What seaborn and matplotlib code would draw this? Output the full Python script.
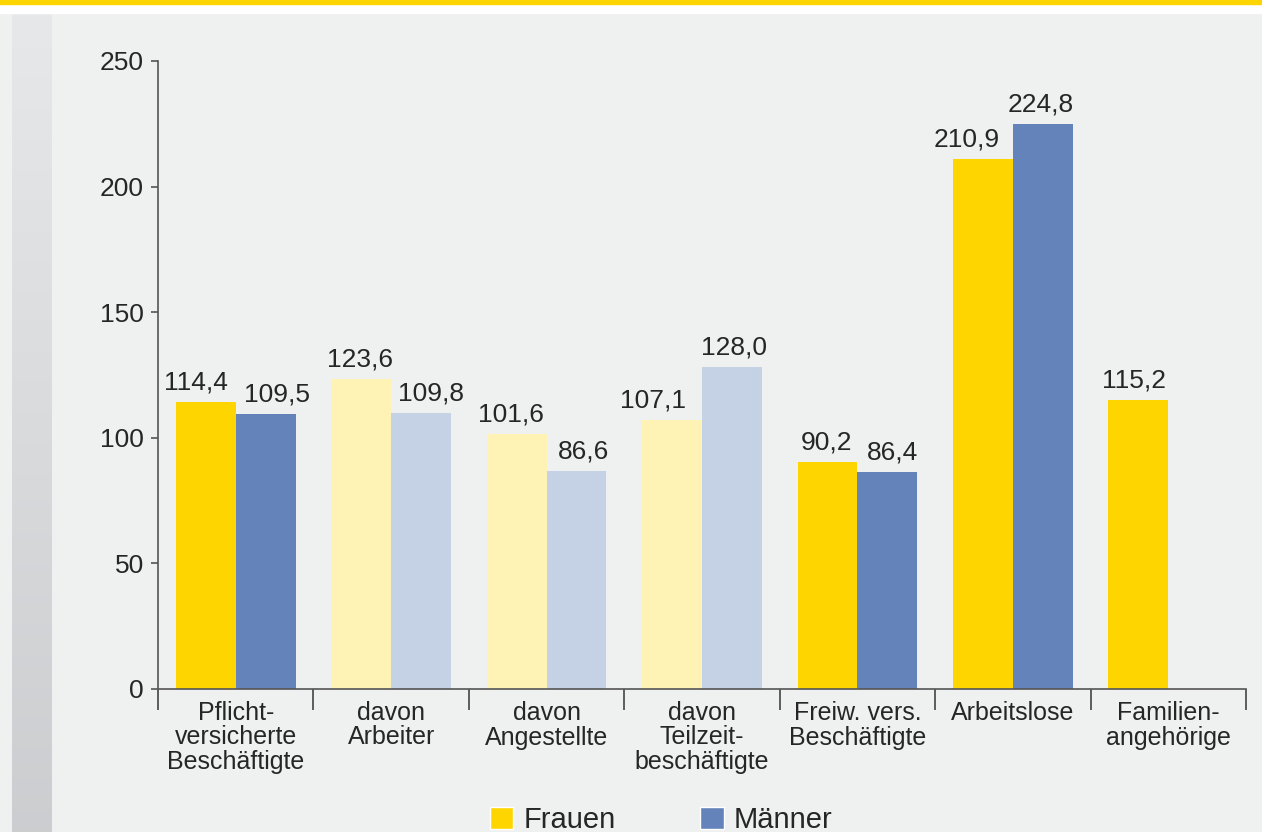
import numpy as np
import pandas as pd
import seaborn as sns
import matplotlib
matplotlib.use("Agg")
import matplotlib.pyplot as plt
from matplotlib.patches import Patch, Rectangle

# Daten
gruppen = ["Pflicht-\nversicherte\nBeschäftigte", "davon\nArbeiter", "davon\nAngestellte",
           "davon\nTeilzeit-\nbeschäftigte", "Freiw. vers.\nBeschäftigte", "Arbeitslose",
           "Familien-\nangehörige"]
frauen = [114.4, 123.6, 101.6, 107.1, 90.2, 210.9, 115.2]
maenner = [109.5, 109.8, 86.6, 128.0, 86.4, 224.8, np.nan]
yticks = [0, 50, 100, 150, 200, 250]

df = pd.DataFrame({
    "Gruppe": gruppen * 2,
    "Wert": frauen + maenner,
    "Geschlecht": ["Frauen"] * len(gruppen) + ["Männer"] * len(gruppen),
})

bg = "#eff0f0"
gelb, blau = "#ffd500", "#6483ba"
gelb_hell, blau_hell = "#fff2b5", "#c5d2e5"
hell_idx = [1, 2, 3]  # "davon"-Gruppen heller
txt = "#262626"

# kleine Verschiebungen der Beschriftungen (pt), wie im Original
dx_frauen = [-7, -1, -4, -14, -1, -11.5, -3.5]
dx_maenner = [8.5, 7, 5, 1.5, 4, -1.5, 0]

sns.set_theme(style="white")
plt.rcParams["font.family"] = ["Liberation Sans", "DejaVu Sans"]

fig = plt.figure(figsize=(12.62, 8.32), dpi=100, facecolor=bg)

# Rahmen oben und grauer Streifen links
fig.patches.append(Rectangle((0, 1 - 13 / 832), 1, 9 / 832, transform=fig.transFigure,
                             color="white", zorder=0))
fig.patches.append(Rectangle((0, 1 - 4 / 832), 1, 4 / 832, transform=fig.transFigure,
                             color=gelb, zorder=1))
band = fig.add_axes([12 / 1262, 0, 40 / 1262, 1 - 13 / 832])
g = np.linspace(0, 1, 256)[:, None]
top = np.array([0.905, 0.91, 0.915])
bot = np.array([0.80, 0.805, 0.815])
band.imshow((top * (1 - g) + bot * g)[:, None, :], aspect="auto")
band.axis("off")

ax = fig.add_axes([158 / 1262, 1 - 689 / 832, 1088 / 1262, 628 / 832])
ax.set_facecolor(bg)

sns.barplot(data=df, x="Gruppe", y="Wert", hue="Geschlecht", palette=[gelb, blau],
            width=0.77, saturation=1, legend=False, ax=ax, linewidth=0)

for hi, cont in enumerate(ax.containers):
    for bar in cont:
        h = bar.get_height()
        if np.isnan(h):
            continue
        cx = bar.get_x() + bar.get_width() / 2
        cat = int(round(cx))
        if cat in hell_idx:
            bar.set_facecolor(gelb_hell if hi == 0 else blau_hell)
        dx = dx_frauen[cat] if hi == 0 else dx_maenner[cat]
        ax.annotate(f"{h:.1f}".replace(".", ","), xy=(cx, h), xytext=(dx, 9),
                    textcoords="offset points", ha="center", va="baseline",
                    fontsize=19, color=txt)

ax.set_xlim(-0.5, len(gruppen) - 0.5)
ax.set_ylim(0, 250)
ax.set_yticks(yticks)
ax.set_yticklabels([str(t) for t in yticks], fontsize=19, color=txt)
ax.set_xticks(range(len(gruppen)))
ax.set_xticklabels(gruppen, fontsize=18, color=txt, linespacing=1.0)
ax.set_xticks(np.arange(-0.5, len(gruppen)), minor=True)
ax.tick_params(axis="x", which="major", length=0, pad=9)
ax.tick_params(axis="x", which="minor", bottom=True, length=15, width=1.2,
               color="#444444", direction="out")
ax.tick_params(axis="y", length=5, width=1.2, color="#555555", pad=5, direction="out", left=True)
ax.set_xlabel("")
ax.set_ylabel("")
for s in ["top", "right"]:
    ax.spines[s].set_visible(False)
for s in ["left", "bottom"]:
    ax.spines[s].set_color("#555555")
    ax.spines[s].set_linewidth(1.2)

handles = [Patch(facecolor=gelb, label="Frauen"), Patch(facecolor=blau, label="Männer")]
leg = fig.legend(handles=handles, loc="center", bbox_to_anchor=(0.524, 1 - 820 / 832),
                 ncol=2, frameon=False, fontsize=21, handlelength=0.8, handleheight=0.8,
                 handletextpad=0.35, columnspacing=2.9)
for t in leg.get_texts():
    t.set_color(txt)

fig.savefig("out.png", dpi=100, facecolor=bg)
